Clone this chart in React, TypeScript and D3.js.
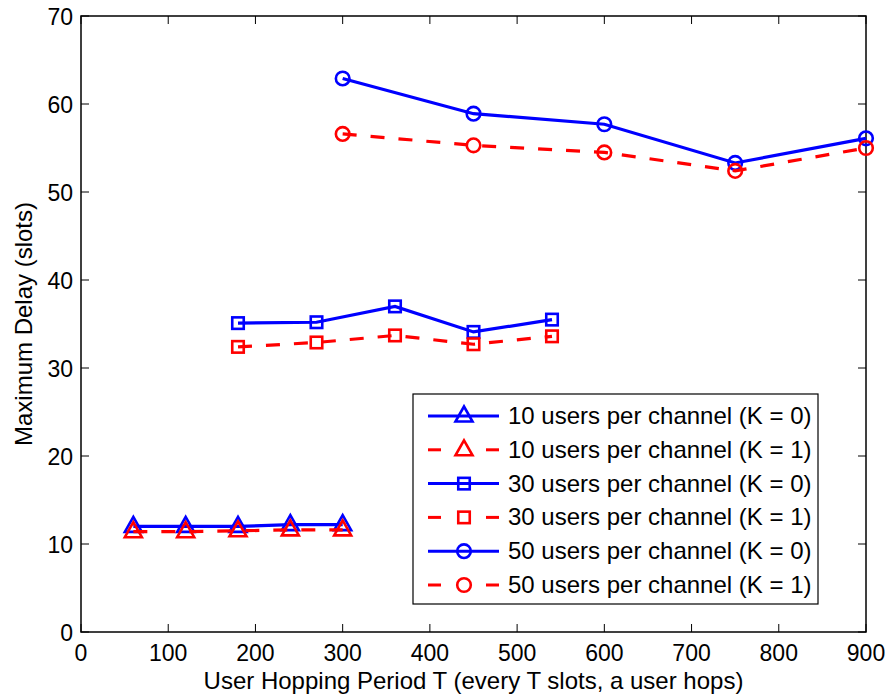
import React from "react";
import * as d3 from "d3";

const xTicks = [0, 100, 200, 300, 400, 500, 600, 700, 800, 900];
const yTicks = [0, 10, 20, 30, 40, 50, 60, 70];

const x10 = [60, 120, 180, 240, 300];
const y10k0 = [12.0, 12.0, 12.0, 12.2, 12.2];
const y10k1 = [11.4, 11.4, 11.5, 11.6, 11.6];

const x30 = [180, 270, 360, 450, 540];
const y30k0 = [35.1, 35.2, 37.0, 34.1, 35.5];
const y30k1 = [32.4, 32.9, 33.7, 32.7, 33.6];

const x50 = [300, 450, 600, 750, 900];
const y50k0 = [62.9, 58.9, 57.7, 53.3, 56.1];
const y50k1 = [56.6, 55.3, 54.5, 52.4, 55.0];

const seriesLabels = [
  "10 users per channel (K = 0)",
  "10 users per channel (K = 1)",
  "30 users per channel (K = 0)",
  "30 users per channel (K = 1)",
  "50 users per channel (K = 0)",
  "50 users per channel (K = 1)",
];

const BLUE = "#0000ff";
const RED = "#ff0000";
const FONT = "'Liberation Sans', Arial, Helvetica, sans-serif";

type Series = { xs: number[]; ys: number[]; color: string; dashed: boolean; marker: string; label: string };

const series: Series[] = [
  { xs: x10, ys: y10k0, color: BLUE, dashed: false, marker: "tri", label: seriesLabels[0] },
  { xs: x10, ys: y10k1, color: RED, dashed: true, marker: "tri", label: seriesLabels[1] },
  { xs: x30, ys: y30k0, color: BLUE, dashed: false, marker: "sq", label: seriesLabels[2] },
  { xs: x30, ys: y30k1, color: RED, dashed: true, marker: "sq", label: seriesLabels[3] },
  { xs: x50, ys: y50k0, color: BLUE, dashed: false, marker: "circ", label: seriesLabels[4] },
  { xs: x50, ys: y50k1, color: RED, dashed: true, marker: "circ", label: seriesLabels[5] },
];

function Marker({ type, cx, cy, color }: { type: string; cx: number; cy: number; color: string }) {
  const sw = 2.6;
  if (type === "circ") return <circle cx={cx} cy={cy} r={6.8} fill="none" stroke={color} strokeWidth={sw} />;
  if (type === "sq") return <rect x={cx - 5.75} y={cy - 5.75} width={11.5} height={11.5} fill="none" stroke={color} strokeWidth={sw} />;
  return (
    <path
      d={`M${cx},${cy - 9.5} L${cx + 8.5},${cy + 5.5} L${cx - 8.5},${cy + 5.5} Z`}
      fill="none"
      stroke={color}
      strokeWidth={sw}
      strokeLinejoin="miter"
    />
  );
}

export default function App() {
  const W = 885, H = 698;
  const left = 81, right = 866, top = 16, bottom = 632;
  const xs = d3.scaleLinear().domain([0, 900]).range([left, right]);
  const ys = d3.scaleLinear().domain([0, 70]).range([bottom, top]);
  const line = d3.line<[number, number]>().x((d) => xs(d[0])).y((d) => ys(d[1]));
  const tickLen = 8;

  const legX = 413, legY = 394, legW = 405, legH = 210;
  const rowH = 33.8;

  return (
    <svg width={W} height={H} style={{ position: "absolute", left: 0, top: 0, background: "#fff" }} fontFamily={FONT}>
      <rect x={0} y={0} width={W} height={H} fill="#fff" />
      {xTicks.map((t) => (
        <g key={"xt" + t}>
          <line x1={xs(t)} x2={xs(t)} y1={bottom} y2={bottom - tickLen} stroke="#000" strokeWidth={1} />
          <line x1={xs(t)} x2={xs(t)} y1={top} y2={top + tickLen} stroke="#000" strokeWidth={1} />
          <text x={xs(t)} y={bottom + 29} textAnchor="middle" fontSize={23} fill="#000">{t}</text>
        </g>
      ))}
      {yTicks.map((t) => (
        <g key={"yt" + t}>
          <line x1={left} x2={left + tickLen} y1={ys(t)} y2={ys(t)} stroke="#000" strokeWidth={1} />
          <line x1={right} x2={right - tickLen} y1={ys(t)} y2={ys(t)} stroke="#000" strokeWidth={1} />
          <text x={left - 8} y={ys(t) + 9} textAnchor="end" fontSize={23} fill="#000">{t}</text>
        </g>
      ))}
      <rect x={left} y={top} width={right - left} height={bottom - top} fill="none" stroke="#000" strokeWidth={1.5} />

      {series.map((s, i) => {
        const pts = s.xs.map((xv, j) => [xv, s.ys[j]] as [number, number]);
        return (
          <g key={"s" + i}>
            <path d={line(pts) || ""} fill="none" stroke={s.color} strokeWidth={3.2} strokeDasharray={s.dashed ? "14,14" : undefined} />
            {pts.map((p, j) => (
              <Marker key={j} type={s.marker} cx={xs(p[0])} cy={ys(p[1])} color={s.color} />
            ))}
          </g>
        );
      })}

      <rect x={legX} y={legY} width={legW} height={legH} fill="#fff" stroke="#000" strokeWidth={1.2} />
      {series.map((s, i) => {
        const cy = legY + 22 + i * rowH;
        return (
          <g key={"l" + i}>
            {s.dashed ? (
              <>
                <line x1={428} x2={441} y1={cy} y2={cy} stroke={s.color} strokeWidth={3} />
                <line x1={486} x2={499} y1={cy} y2={cy} stroke={s.color} strokeWidth={3} />
              </>
            ) : (
              <line x1={428} x2={499} y1={cy} y2={cy} stroke={s.color} strokeWidth={3} />
            )}
            <Marker type={s.marker} cx={464} cy={cy} color={s.color} />
            <text x={508} y={cy + 8} fontSize={24} fill="#000">{s.label}</text>
          </g>
        );
      })}

      <text x={(left + right) / 2} y={689} textAnchor="middle" fontSize={24} fill="#000">
        User Hopping Period T (every T slots, a user hops)
      </text>
      <text transform={`translate(32,${(top + bottom) / 2}) rotate(-90)`} textAnchor="middle" fontSize={24} fill="#000">
        Maximum Delay (slots)
      </text>
    </svg>
  );
}
